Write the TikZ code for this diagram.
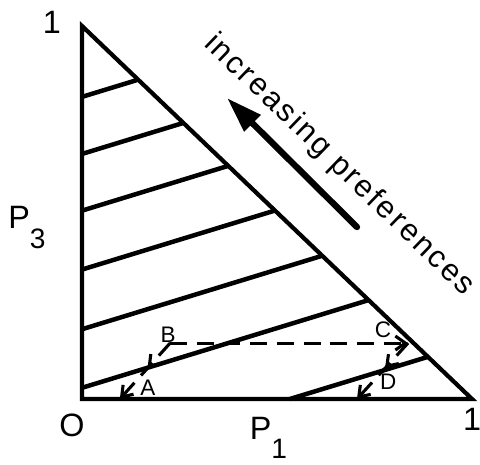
\documentclass[tikz,border=0pt]{standalone}
\usepackage{fontspec}
\setmainfont{Liberation Sans}
\newfontfamily\prefsfont[LetterSpace=8]{Liberation Sans}
\usetikzlibrary{arrows.meta,decorations.markings}
\newcommand{\lowsub}[1]{\raisebox{-14pt}{\fontsize{20}{22}\selectfont #1}}
\tikzset{
    edge/.style={line width=3pt, line join=miter},
    hatch/.style={line width=3.2pt},
    move/.style={line width=2.2pt, dash pattern=on 12pt off 7pt,
        -{Straight Barb[length=2.5mm,width=3.5mm]}},
    midarrow/.style={postaction={decorate},
        decoration={markings, mark=at position #1 with {\arrow{Straight Barb[length=2.5mm,width=3.5mm]}}}},
    bigarrow/.style={line width=4.5pt, line cap=round, -{Triangle[length=9mm,width=5.5mm]}},
    axislabel/.style={font=\fontsize{23}{27}\selectfont, inner sep=0pt},
    ptlabel/.style={font=\fontsize{16}{18}\selectfont, inner sep=0pt},
    prefs/.style={font=\prefsfont\fontsize{22}{26}\selectfont, inner sep=0pt},
}

\begin{document}
\begin{tikzpicture}[x=9.75cm, y=9.325cm]
    \useasboundingbox (-0.2103,-0.1743) rectangle (1.0205,1.0697);
    % the probability triangle
    \coordinate (O) at (0,0);
    \coordinate (X) at (1,0);
    \coordinate (Y) at (0,1);
    \draw[edge] (O) -- (X) -- (Y) -- cycle;
    % indifference lines
    \foreach \c in {0.81,0.657,0.505,0.347,0.187,0.03}
        \draw[hatch] (0,\c) -- ({(1-\c)/1.32},{\c+0.32*(1-\c)/1.32});
    \draw[hatch] (0.533,0) -- (0.887,0.113);
    % axis labels
    \node[axislabel] (top) at (-0.077,1.011) {1};
    \node[axislabel] (orig) at (-0.026,-0.072) {O};
    \node[axislabel] (right) at (1.0,-0.054) {1};
    \node[axislabel] (pone) at (0.478,-0.104) {P\lowsub{1}};
    \node[axislabel] (pthree) at (-0.141,0.460) {P\lowsub{3}};
    % lotteries
    \coordinate (B) at (0.226,0.15);
    \coordinate (C) at (0.836,0.15);
    \coordinate (A) at (0.097,0);
    \coordinate (D) at (0.705,0);
    \draw[move] (B) -- (C);
    \draw[move, midarrow=0.45] (B) -- (A);
    \draw[move, midarrow=0.45] (C) -- (D);
    \node[ptlabel] (Blab) at (0.221,0.172) {B};
    \node[ptlabel] (Alab) at (0.169,0.029) {A};
    \node[ptlabel] (Clab) at (0.772,0.185) {C};
    \node[ptlabel] (Dlab) at (0.785,0.046) {D};
    % direction of preference
    \coordinate (tail) at (0.7051,0.461);
    \coordinate (tip) at (0.3718,0.807);
    \draw[bigarrow] (tail) -- (tip);
    \node[prefs, rotate=-44] (pref) at (0.659,0.627) {increasing preferences};
\end{tikzpicture}
\end{document}
